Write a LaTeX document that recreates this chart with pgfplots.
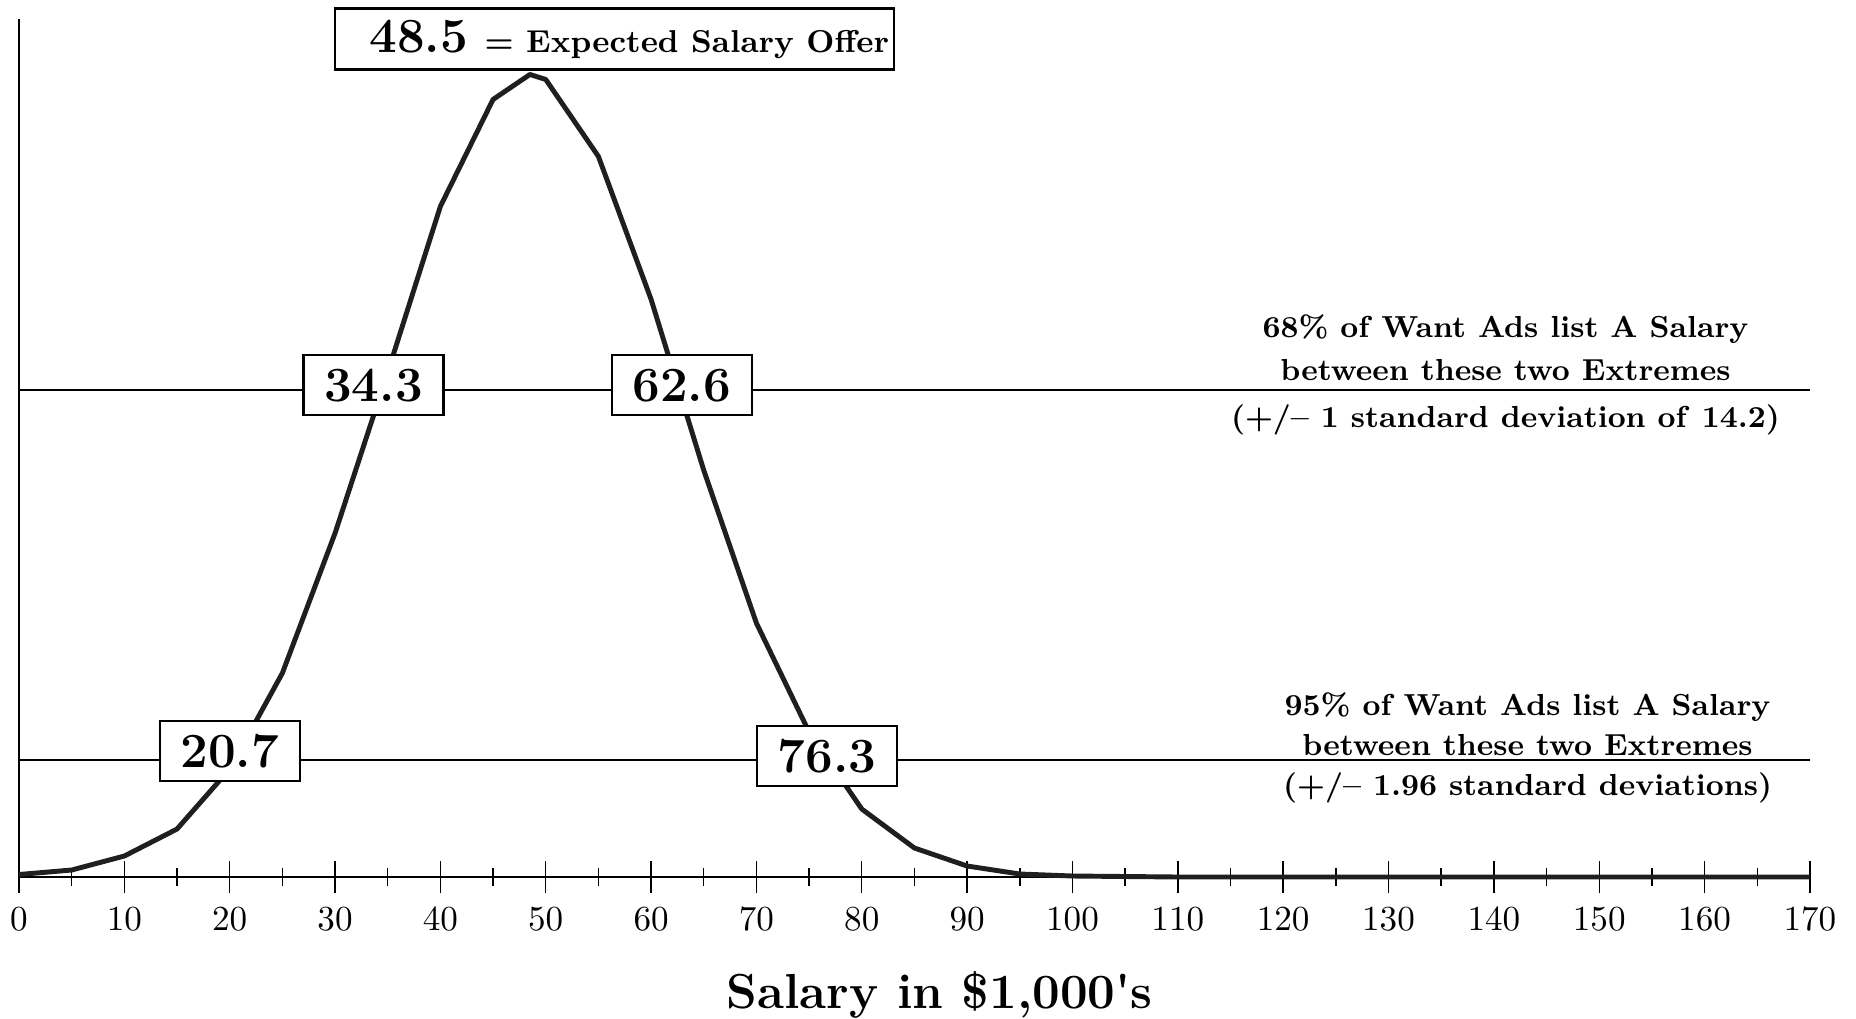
\documentclass[border=0pt]{standalone}
\usepackage{pgfplots}
\pgfplotsset{compat=1.18}
\tikzset{
  box/.style={draw=black, line width=0.6pt, fill=white, minimum width=1.4cm, minimum height=0.6cm, inner sep=0pt, font=\fontsize{14}{16}\selectfont\bfseries},
  note/.style={anchor=base, font=\fontsize{8.65}{12}\selectfont\bfseries},
}
\begin{document}
\begin{tikzpicture}
\begin{axis}[
  anchor=origin, at={(0,0)},
  x=0.10535cm, y=0.01cm,
  xmin=0, xmax=170, ymin=0, ymax=858,
  axis x line=bottom, axis y line=left,
  axis line style={-, line width=0.75pt, black},
  xtick={0,10,...,170}, minor x tick num=1,
  ytick=\empty,
  tick align=center,
  major tick length=0.32cm, minor tick length=0.18cm,
  every tick/.style={black, line width=0.4pt},
  xticklabel style={font=\fontsize{9.8}{11}\selectfont, yshift=-0.02cm},
  clip=false,
]
\addplot[black, line width=0.6pt] coordinates {(0,487) (170,487)};
\addplot[black, line width=0.6pt] coordinates {(0,117) (170,117)};
\addplot[black!88, line width=1.4pt, line join=round] coordinates {
(0,2.5) (5,7) (10,21) (15,48) (20,108) (25,204) (30,344) (35,505) (40,671)
(45,778) (48.5,803) (50,798) (55,721) (60,578) (65,407) (70,254) (75,145)
(80,68) (85,29) (90,11) (95,3) (100,1) (105,0.5) (110,0) (120,0) (130,0)
(140,0) (150,0) (160,0) (170,0)};
\node[box] at (axis cs:33.65,492) {34.3};
\node[box] at (axis cs:62.9,492) {62.6};
\node[box] at (axis cs:20.0,126) {20.7};
\node[box] at (axis cs:76.7,121) {76.3};
\node[draw=black, line width=0.6pt, fill=white, minimum width=5.59cm, minimum height=0.61cm, inner sep=0pt] at (axis cs:56.5,838.5)
  {\hspace{0.3cm}{\fontsize{14}{16}\selectfont\bfseries 48.5}\hspace{0.05cm} {\fontsize{9}{11}\selectfont\bfseries = Expected Salary Offer}};
\node[note] at (axis cs:141.1,540) {68\% of Want Ads list A Salary};
\node[note] at (axis cs:141.1,497) {between these two Extremes};
\node[note] at (axis cs:141.1,450) {(+/-- 1 standard deviation of\enspace 14.2)};
\node[note] at (axis cs:143.2,162) {95\% of Want Ads list A Salary};
\node[note] at (axis cs:143.2,122) {between these two Extremes};
\node[note] at (axis cs:143.2,82) {(+/-- 1.96 standard deviations)};
\node[anchor=base, font=\fontsize{14}{16}\selectfont\bfseries] at (axis cs:87.4,-132) {Salary in \$1,000\textquotesingle s};
\end{axis}
\pgfresetboundingbox
\path[use as bounding box] (-0.19,-1.41) rectangle (18.37,8.77);
\end{tikzpicture}
\end{document}
